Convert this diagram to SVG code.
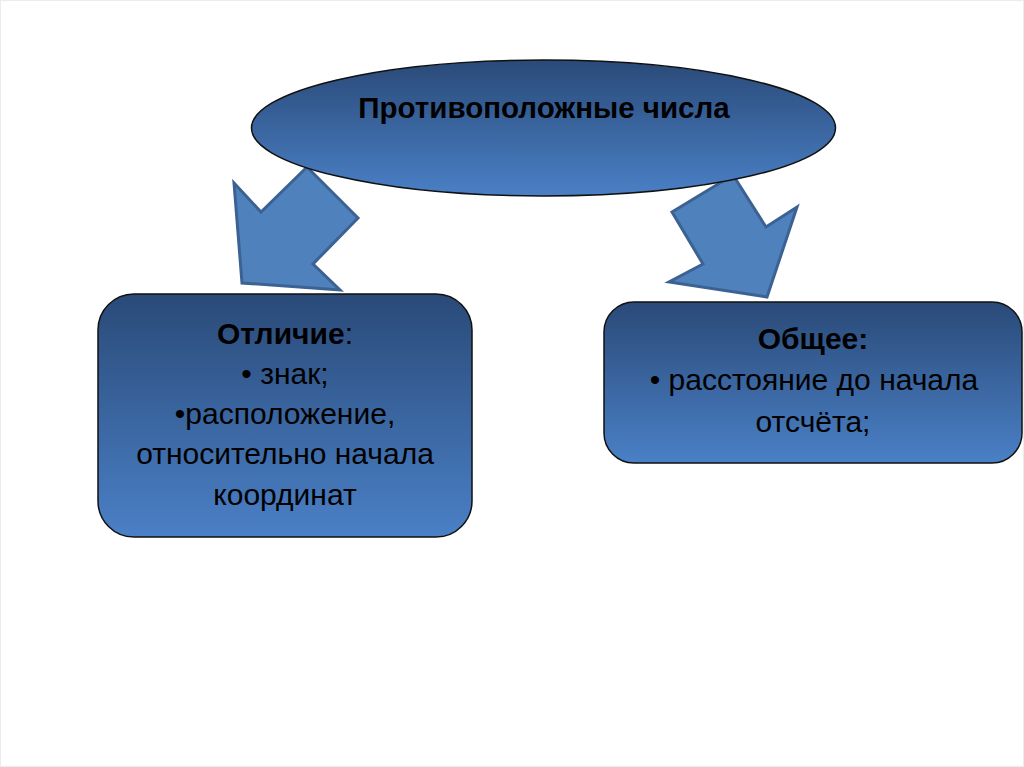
<svg xmlns="http://www.w3.org/2000/svg" width="1024" height="767" viewBox="0 0 1024 767">
<defs>
<linearGradient id="g" x1="0" y1="0" x2="0" y2="1">
<stop offset="0" stop-color="#2a4a78"/>
<stop offset="1" stop-color="#4a80c6"/>
</linearGradient>
<style>
.shape{fill:url(#g);stroke:#111;stroke-width:1.5}
.arr{fill:#4f81bd;stroke:#3b6292;stroke-width:3;stroke-linejoin:miter}
text{font-family:"Liberation Sans",Arial,sans-serif;fill:#000;text-anchor:middle}
.b{font-weight:bold}
.t{font-size:30px}
</style>
</defs>
<rect x="0.5" y="0.5" width="1023" height="766" fill="#fff" stroke="#ececec"/>
<g id="connectors">
<polygon class="arr" points="234,183 261,212 307,167 358,218 313,264 340,290 242,283"/>
<polygon class="arr" points="672,212 733,175 766,227 797,207 767,297 669,282 703,264"/>
</g>
<g id="top">
<ellipse class="shape" cx="543.5" cy="128" rx="292" ry="68"/>
<text class="b" x="544" y="118" font-size="29.5">Противоположные числа</text>
</g>
<g id="left">
<rect class="shape" x="98" y="294" width="374" height="243" rx="36"/>
<text class="t" x="285" y="344"><tspan class="b">Отличие</tspan>:</text>
<text class="t" x="285" y="384">• знак;</text>
<text class="t" x="285" y="424">•расположение,</text>
<text class="t" x="285" y="464">относительно начала</text>
<text class="t" x="285" y="505">координат</text>
</g>
<g id="right">
<rect class="shape" x="604" y="302" width="418" height="161" rx="30"/>
<text class="t b" x="813" y="349">Общее:</text>
<text class="t" x="814" y="390">• расстояние до начала</text>
<text class="t" x="813" y="432">отсчёта;</text>
</g>
</svg>
